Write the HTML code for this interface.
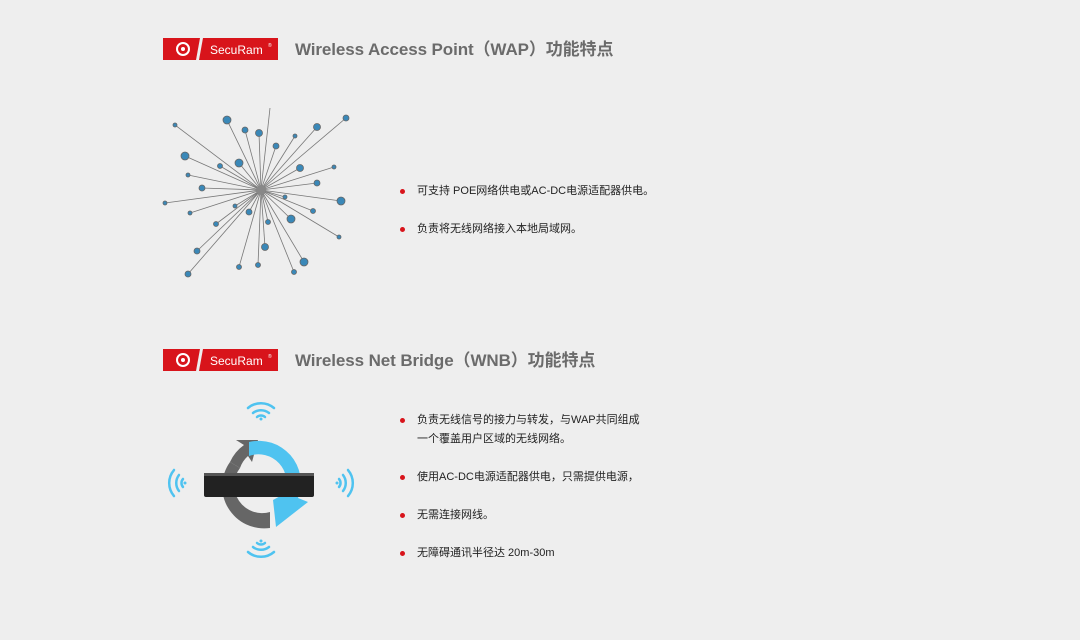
<!DOCTYPE html>
<html><head><meta charset="utf-8"><style>
body{margin:0;width:1080px;height:640px;background:#eeeeee;position:relative;font-family:"Liberation Sans","Noto Sans CJK SC",sans-serif;overflow:hidden}
.logo{position:absolute;left:163px;width:115px;height:22px}
.title{position:absolute;left:295px;font-size:17px;font-weight:bold;color:#6b6b6b;white-space:nowrap;letter-spacing:-0.1px}
.b{position:absolute;left:403px;font-size:11px;color:#222;line-height:19px;white-space:nowrap}
.b::before{content:"";position:absolute;left:-3px;top:7px;width:5px;height:5px;border-radius:50%;background:#d8141b}
.b span{margin-left:14px;display:block}
</style></head><body>
<svg class="logo" style="top:38px" viewBox="0 0 115 22"><polygon points="0,0 37,0 33,22 0,22" fill="#d8141b"/><polygon points="40,0 115,0 115,22 36,22" fill="#d8141b"/><circle cx="20" cy="11" r="6" fill="none" stroke="#fff" stroke-width="2"/><circle cx="20" cy="11" r="2" fill="#fff"/><text x="47" y="16" font-size="12" fill="#fff" font-family="Liberation Sans">SecuRam</text><text x="105" y="9" font-size="5" fill="#fff">®</text></svg>
<div class="title" style="top:35px">Wireless Access Point（WAP）功能特点</div>
<svg class="logo" style="top:349px" viewBox="0 0 115 22"><polygon points="0,0 37,0 33,22 0,22" fill="#d8141b"/><polygon points="40,0 115,0 115,22 36,22" fill="#d8141b"/><circle cx="20" cy="11" r="6" fill="none" stroke="#fff" stroke-width="2"/><circle cx="20" cy="11" r="2" fill="#fff"/><text x="47" y="16" font-size="12" fill="#fff" font-family="Liberation Sans">SecuRam</text><text x="105" y="9" font-size="5" fill="#fff">®</text></svg>
<div class="title" style="top:346px">Wireless Net Bridge（WNB）功能特点</div>

<svg style="position:absolute;left:0;top:0" width="400" height="300" id="star">
<g stroke="#777" stroke-width="0.8" id="lines"></g><g id="dots"></g>
<circle cx="261" cy="190" r="5" fill="#888"/>
</svg>
<script>
var p=[[175,125,2],[227,120,4],[245,130,3],[259,133,3.5],[270,108,0],[276,146,3],[295,136,2],[317,127,3.5],[346,118,3],[185,156,4],[220,166,2.5],[239,163,4],[300,168,3.5],[334,167,2],[188,175,2],[202,188,3],[317,183,3],[165,203,2],[341,201,4],[190,213,2],[216,224,2.5],[249,212,3],[268,222,2.5],[285,197,2],[291,219,4],[313,211,2.5],[339,237,2],[197,251,3],[265,247,3.5],[304,262,4],[188,274,3],[239,267,2.5],[258,265,2.5],[294,272,2.5],[235,206,2]];
var L='',D='';p.forEach(function(a){L+='<line x1="261" y1="190" x2="'+a[0]+'" y2="'+a[1]+'"/>';if(a[2])D+='<circle cx="'+a[0]+'" cy="'+a[1]+'" r="'+a[2]+'" fill="#3a88b8" stroke="#666" stroke-width="0.8"/>';});
document.getElementById('lines').innerHTML=L;document.getElementById('dots').innerHTML=D;
</script>

<svg style="position:absolute;left:160px;top:390px" width="220" height="180" viewBox="0 0 220 180">
<g fill="none" stroke="#4fc3f0" stroke-width="2.5" stroke-linecap="round">
<path d="M88,18 A20,20 0 0 1 114,18"/><path d="M93,23 A13,13 0 0 1 109,23"/><path d="M97,27 A6,6 0 0 1 105,27"/>
<path d="M88,162 A20,20 0 0 0 114,162"/><path d="M93,157 A13,13 0 0 0 109,157"/><path d="M97,153 A6,6 0 0 0 105,153"/>
<path d="M14,80 A20,20 0 0 0 14,106"/><path d="M19,85 A13,13 0 0 0 19,101"/><path d="M23,89 A6,6 0 0 0 23,97"/>
<path d="M188,80 A20,20 0 0 1 188,106"/><path d="M183,85 A13,13 0 0 1 183,101"/><path d="M179,89 A6,6 0 0 1 179,97"/>
</g>
<circle cx="101" cy="29" r="1.5" fill="#4fc3f0"/><circle cx="101" cy="151" r="1.5" fill="#4fc3f0"/><circle cx="25" cy="93" r="1.5" fill="#4fc3f0"/><circle cx="177" cy="93" r="1.5" fill="#4fc3f0"/>
<path d="M110,138 L110,122 A28,28 0 0 1 80,78 L70,72 A42,42 0 0 0 110,138 Z" fill="#666"/>
<path d="M70,72 A42,42 0 0 1 84,55 L76,50 L98,50 L92,72 L88,66 A28,28 0 0 0 80,78 Z" fill="#666"/>
<path d="M89,52 A42,42 0 0 1 138,108 L148,112 L116,137 L113,110 L124,104 A28,28 0 0 0 89,66 Z" fill="#4fc3f0"/>
<rect x="44" y="83" width="110" height="24" rx="2" fill="#222"/>
<rect x="44" y="83" width="110" height="3" fill="#555"/>
</svg>

<div class="b" style="top:182px"><span>可支持 POE网络供电或AC-DC电源适配器供电。</span></div>
<div class="b" style="top:220px"><span>负责将无线网络接入本地局域网。</span></div>
<div class="b" style="top:411px"><span>负责无线信号的接力与转发，与WAP共同组成<br>一个覆盖用户区域的无线网络。</span></div>
<div class="b" style="top:468px"><span>使用AC-DC电源适配器供电，只需提供电源，</span></div>
<div class="b" style="top:506px"><span>无需连接网线。</span></div>
<div class="b" style="top:544px"><span>无障碍通讯半径达 20m-30m</span></div>
</body></html>
